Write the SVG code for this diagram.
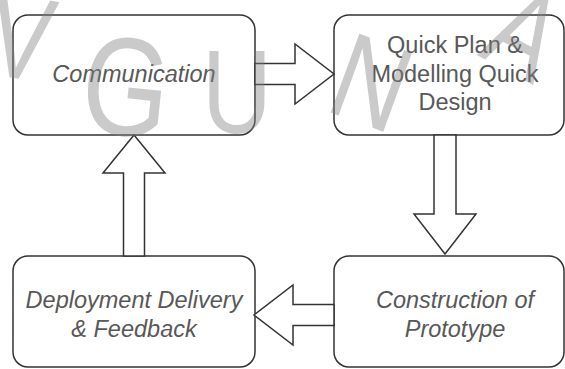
<svg xmlns="http://www.w3.org/2000/svg" width="565" height="369" viewBox="0 0 565 369">
  <style>
    .box { fill: #ffffff; stroke: #333333; stroke-width: 1.5; }
    .arrow { fill: #ffffff; stroke: #333333; stroke-width: 1.5; stroke-linejoin: miter; }
    .label { font-family: "Liberation Sans", Arial, Helvetica, sans-serif; font-size: 23.5px; fill: #585858; text-anchor: middle; }
    .it { font-style: italic; }
    .wm { font-family: "Liberation Sans", Arial, sans-serif; fill: #808080; fill-opacity: 0.42; text-anchor: middle; }
  </style>
  <rect width="565" height="369" fill="#ffffff"/>

  <!-- process steps -->
  <g id="communication">
    <rect class="box" x="13" y="15" width="242" height="120" rx="15" ry="15"/>
    <text class="label it" x="134" y="82">Communication</text>
  </g>
  <g id="quick-plan">
    <rect class="box" x="334" y="15" width="230" height="120" rx="15" ry="15"/>
    <text class="label" x="455" y="53">Quick Plan &amp;</text>
    <text class="label" x="455" y="82">Modelling Quick</text>
    <text class="label" x="455" y="110">Design</text>
  </g>
  <g id="construction">
    <rect class="box" x="334" y="256" width="230" height="111" rx="15" ry="15"/>
    <text class="label it" x="455" y="308">Construction of</text>
    <text class="label it" x="455" y="337">Prototype</text>
  </g>
  <g id="deployment">
    <rect class="box" x="13" y="256" width="242" height="111" rx="15" ry="15"/>
    <text class="label it" x="134" y="308">Deployment Delivery</text>
    <text class="label it" x="134" y="337">&amp; Feedback</text>
  </g>

  <!-- block arrows between steps -->
  <g id="connectors">
    <polygon class="arrow" points="255,63.5 295,63.5 295,44 334,74 295,104 295,84.5 255,84.5"/>
    <polygon class="arrow" points="434,135 456,135 456,214 476,214 445,254 414,214 434,214"/>
    <polygon class="arrow" points="334,304.5 293,304.5 293,285 254,315 293,345 293,325.5 334,325.5"/>
    <polygon class="arrow" points="123.5,256 123.5,173 103,173 134,135 165,173 144.5,173 144.5,256"/>
  </g>

  <!-- stamped lettering over the sheet -->
  <g id="watermark">
    <text class="wm" font-size="120" transform="translate(14,78) rotate(10) scale(0.8,1)">V</text>
    <text class="wm" font-size="140" transform="translate(121,135) rotate(6) scale(0.8,1)">G</text>
    <text class="wm" font-size="118" transform="translate(237,133) scale(0.82,1)">U</text>
    <text class="wm" font-size="122" transform="translate(357,122) rotate(20) scale(0.82,1)">N</text>
    <text class="wm" font-size="120" transform="translate(505,70) rotate(28) scale(0.8,1)">A</text>
  </g>
</svg>
